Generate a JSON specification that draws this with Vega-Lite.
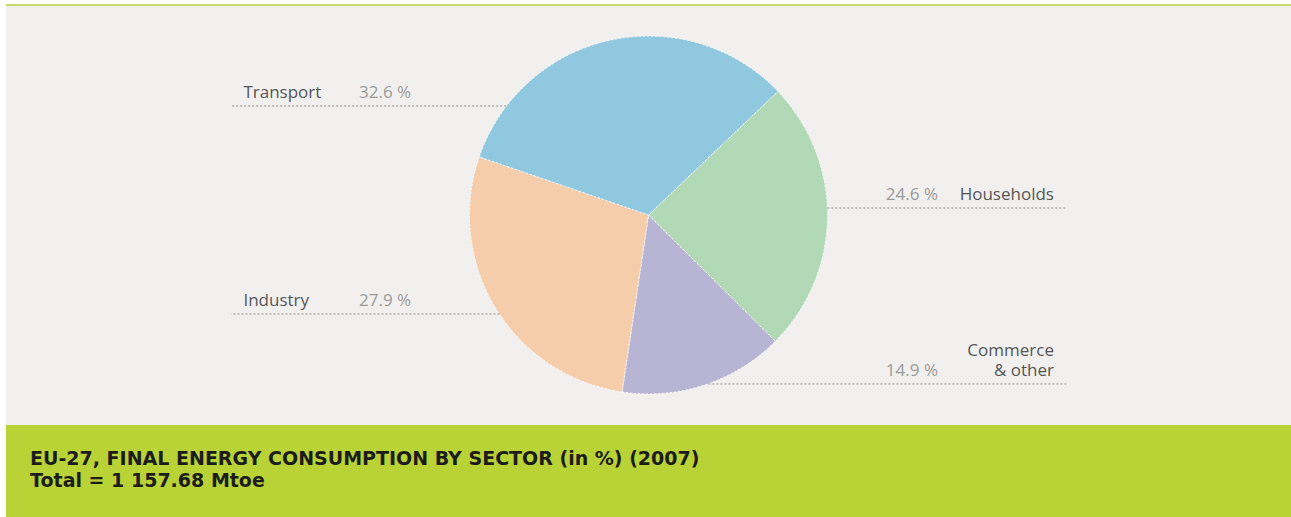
{
  "$schema": "https://vega.github.io/schema/vega-lite/v6.json",
  "width": 1291,
  "height": 517,
  "autosize": {"type": "fit", "contains": "padding"},
  "padding": 0,
  "background": "#ffffff",
  "config": {
    "view": {"stroke": null},
    "axis": {"disable": true},
    "font": "Open Sans"
  },
  "datasets": {
    "sectors": [
      {"sector": "Households", "labelTop": "", "label": "Households", "pct": 24.6, "pctText": "24.6 %", "rank": 1, "side": "right", "ly": 0.039, "xe": 0.999},
      {"sector": "Commerce & other", "labelTop": "Commerce", "label": "& other", "pct": 14.9, "pctText": "14.9 %", "rank": 2, "side": "right", "ly": -0.944, "xe": 0.335},
      {"sector": "Industry", "labelTop": "", "label": "Industry", "pct": 27.9, "pctText": "27.9 %", "rank": 3, "side": "left", "ly": -0.553, "xe": -0.833},
      {"sector": "Transport", "labelTop": "", "label": "Transport", "pct": 32.6, "pctText": "32.6 %", "rank": 4, "side": "left", "ly": 0.609, "xe": -0.795}
    ]
  },
  "layer": [
    {
      "data": {"values": [{}]},
      "mark": {"type": "rect", "color": "#f1f0ee"},
      "encoding": {
        "x": {"datum": -3.5894, "type": "quantitative", "scale": {"domain": [-3.62291, 3.58939], "nice": false, "zero": false}},
        "x2": {"datum": 3.58939},
        "y": {"datum": 1.1676, "type": "quantitative", "scale": {"domain": [-1.68715, 1.20112], "nice": false, "zero": false}},
        "y2": {"datum": -1.17318}
      }
    },
    {
      "data": {"values": [{}]},
      "mark": {"type": "rect", "color": "#c6dc68"},
      "encoding": {
        "x": {"datum": -3.5894, "type": "quantitative"},
        "x2": {"datum": 3.58939},
        "y": {"datum": 1.17877, "type": "quantitative"},
        "y2": {"datum": 1.1676}
      }
    },
    {
      "data": {"values": [{}]},
      "mark": {"type": "rect", "color": "#b9d336"},
      "encoding": {
        "x": {"datum": -3.5894, "type": "quantitative"},
        "x2": {"datum": 3.58939},
        "y": {"datum": -1.17318, "type": "quantitative"},
        "y2": {"datum": -1.68715}
      }
    },
    {
      "data": {"name": "sectors"},
      "mark": {"type": "arc", "outerRadius": 179, "stroke": "#ffffff", "strokeWidth": 1, "strokeDash": [2, 2], "x": {"expr": "scale('x', 0)"}, "y": {"expr": "scale('y', 0)"}},
      "encoding": {
        "theta": {"field": "pct", "type": "quantitative", "stack": true, "scale": {"range": [0.8081, 7.0913]}},
        "order": {"field": "rank", "type": "quantitative"},
        "color": {
          "field": "sector", "type": "nominal", "legend": null,
          "scale": {"domain": ["Households", "Commerce & other", "Industry", "Transport"], "range": ["#b2d9b6", "#b8b5d4", "#f6cdab", "#90c8df"]}
        }
      }
    },
    {
      "data": {"name": "sectors"},
      "transform": [{"filter": "datum.side === 'left'"}],
      "mark": {"type": "rule", "color": "#8f8f8f", "strokeWidth": 1, "strokeDash": [2, 2]},
      "encoding": {
        "x": {"field": "xe", "type": "quantitative"},
        "x2": {"datum": -2.332},
        "y": {"field": "ly", "type": "quantitative"}
      }
    },
    {
      "data": {"name": "sectors"},
      "transform": [{"filter": "datum.side === 'right'"}],
      "mark": {"type": "rule", "color": "#8f8f8f", "strokeWidth": 1, "strokeDash": [2, 2]},
      "encoding": {
        "x": {"field": "xe", "type": "quantitative"},
        "x2": {"datum": 2.338},
        "y": {"field": "ly", "type": "quantitative"}
      }
    },
    {
      "data": {"name": "sectors"},
      "transform": [{"filter": "datum.side === 'left'"}],
      "mark": {"type": "text", "align": "left", "baseline": "alphabetic", "dy": -8, "fontSize": 17, "color": "#565656", "font": "Open Sans"},
      "encoding": {
        "x": {"datum": -2.263, "type": "quantitative"},
        "y": {"field": "ly", "type": "quantitative"},
        "text": {"field": "label"}
      }
    },
    {
      "data": {"name": "sectors"},
      "transform": [{"filter": "datum.side === 'left'"}],
      "mark": {"type": "text", "align": "left", "baseline": "alphabetic", "dy": -8, "fontSize": 17, "color": "#9b9b9b", "font": "Open Sans"},
      "encoding": {
        "x": {"datum": -1.617, "type": "quantitative"},
        "y": {"field": "ly", "type": "quantitative"},
        "text": {"field": "pctText"}
      }
    },
    {
      "data": {"name": "sectors"},
      "transform": [{"filter": "datum.side === 'right'"}],
      "mark": {"type": "text", "align": "right", "baseline": "alphabetic", "dy": -8, "fontSize": 17, "color": "#565656", "font": "Open Sans"},
      "encoding": {
        "x": {"datum": 2.265, "type": "quantitative"},
        "y": {"field": "ly", "type": "quantitative"},
        "text": {"field": "label"}
      }
    },
    {
      "data": {"name": "sectors"},
      "transform": [{"filter": "datum.side === 'right' && datum.labelTop !== ''"}],
      "mark": {"type": "text", "align": "right", "baseline": "alphabetic", "dy": -28, "fontSize": 17, "color": "#565656", "font": "Open Sans"},
      "encoding": {
        "x": {"datum": 2.265, "type": "quantitative"},
        "y": {"field": "ly", "type": "quantitative"},
        "text": {"field": "labelTop"}
      }
    },
    {
      "data": {"name": "sectors"},
      "transform": [{"filter": "datum.side === 'right'"}],
      "mark": {"type": "text", "align": "right", "baseline": "alphabetic", "dy": -8, "fontSize": 17, "color": "#9b9b9b", "font": "Open Sans"},
      "encoding": {
        "x": {"datum": 1.617, "type": "quantitative"},
        "y": {"field": "ly", "type": "quantitative"},
        "text": {"field": "pctText"}
      }
    },
    {
      "data": {"values": [{}]},
      "mark": {"type": "text", "align": "left", "baseline": "alphabetic", "fontSize": 19, "fontWeight": "bold", "color": "#1c1c1c", "font": "DejaVu Sans", "lineHeight": 22.5},
      "encoding": {
        "x": {"datum": -3.455, "type": "quantitative"},
        "y": {"datum": -1.3966, "type": "quantitative"},
        "text": {"value": ["EU-27, FINAL ENERGY CONSUMPTION BY SECTOR (in %) (2007)", "Total = 1 157.68 Mtoe"]}
      }
    }
  ]
}
